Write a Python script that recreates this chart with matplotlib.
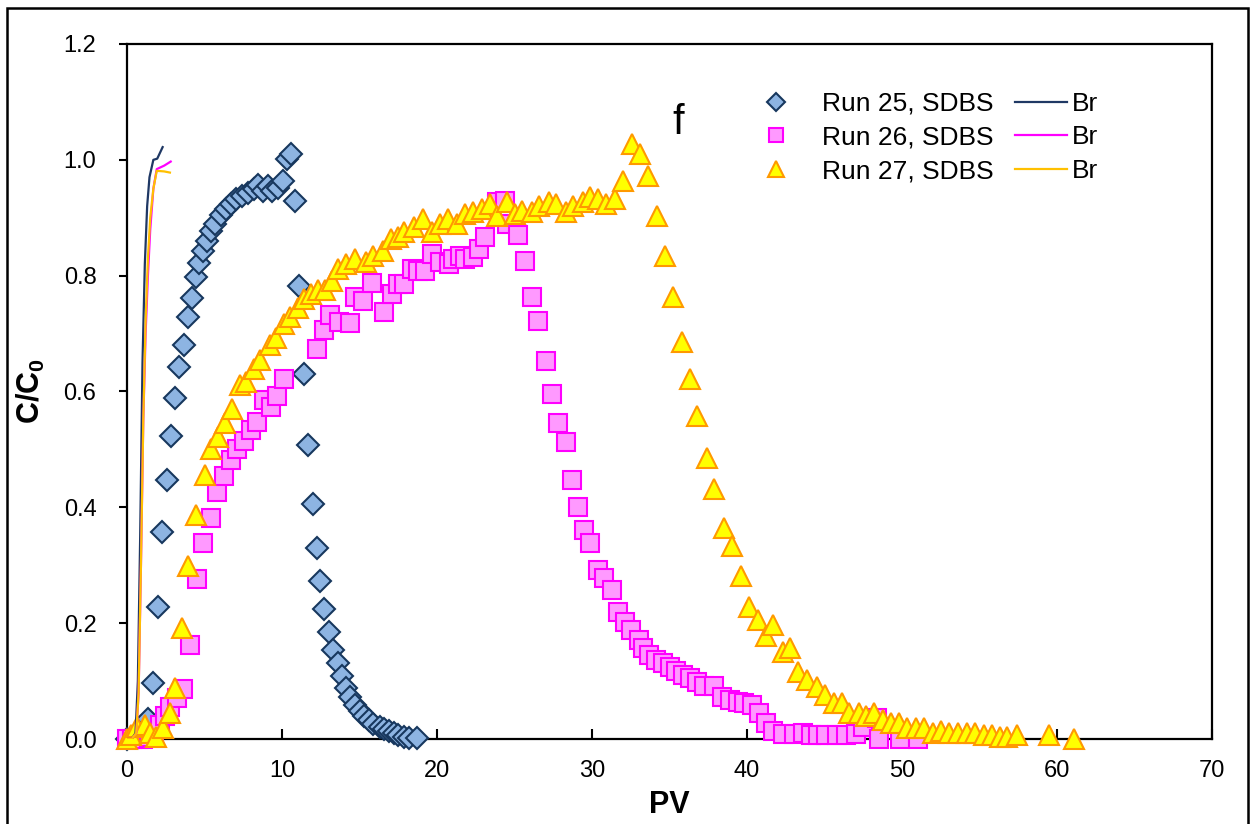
import matplotlib
matplotlib.use("Agg")
import matplotlib.pyplot as plt
from matplotlib.patches import Rectangle
from matplotlib.ticker import FormatStrFormatter, MultipleLocator

plt.rcParams["font.family"] = ["Liberation Sans", "DejaVu Sans"]
plt.rcParams["mathtext.fontset"] = "custom"
plt.rcParams["mathtext.rm"] = "Liberation Sans:bold"
plt.rcParams["mathtext.bf"] = "Liberation Sans:bold"

# Run 25, SDBS (diamonds)
pv_25 = [0, 0.45, 0.9, 1.35, 1.7, 2.0, 2.28, 2.56, 2.82, 3.1, 3.38, 3.65, 3.92,
         4.17, 4.45, 4.65, 4.9, 5.16, 5.4, 5.7, 6.06, 6.4, 6.7, 7.03, 7.4, 7.8,
         8.2, 8.45, 8.77, 9.1, 9.35, 9.74, 10.06, 10.3, 10.6, 10.84, 11.1, 11.4,
         11.7, 12.0, 12.26, 12.45, 12.7, 13.0, 13.3, 13.6, 13.87, 14.1, 14.4,
         14.7, 15.0, 15.3, 15.6, 15.9, 16.3, 16.6, 16.9, 17.2, 17.5, 17.9, 18.2,
         18.7]
c_25 = [0, 0.003, 0.01, 0.035, 0.097, 0.228, 0.357, 0.447, 0.524, 0.589, 0.643,
        0.68, 0.728, 0.762, 0.797, 0.822, 0.842, 0.859, 0.877, 0.89, 0.904,
        0.915, 0.923, 0.932, 0.937, 0.942, 0.949, 0.956, 0.946, 0.954, 0.946,
        0.951, 0.963, 1.001, 1.01, 0.929, 0.782, 0.63, 0.507, 0.405, 0.33,
        0.273, 0.225, 0.185, 0.154, 0.131, 0.109, 0.088, 0.073, 0.059, 0.048,
        0.040, 0.033, 0.026, 0.021, 0.017, 0.014, 0.010, 0.007, 0.004, 0.002,
        0.001]

# Run 26, SDBS (squares)
pv_26 = [0, 0.35, 0.7, 1.05, 1.4, 1.75, 2.1, 2.45, 2.8, 3.2, 3.6, 4.06, 4.54,
         4.93, 5.4, 5.83, 6.26, 6.69, 7.12, 7.55, 7.98, 8.37, 8.84, 9.27, 9.66,
         10.1, 12.25, 12.68, 13.1, 13.7, 14.4, 14.7, 15.2, 15.8, 16.6, 17.1,
         17.5, 17.9, 18.4, 18.8, 19.2, 19.7, 20.2, 20.8, 21.0, 21.5, 21.8, 22.3,
         22.7, 23.1, 23.9, 24.4, 24.5, 25.2, 25.7, 26.1, 26.5, 27.0, 27.4, 27.8,
         28.3, 28.7, 29.1, 29.5, 29.9, 30.4, 30.8, 31.3, 31.7, 32.1, 32.5, 33.0,
         33.3, 33.7, 34.1, 34.6, 35.0, 35.4, 35.9, 36.3, 36.8, 37.2, 37.9, 38.4,
         38.9, 39.4, 39.8, 40.3, 40.8, 41.2, 41.7, 42.3, 43.0, 43.6, 44.1, 44.6,
         45.1, 45.8, 46.4, 47.0, 47.5, 48.4, 48.5, 49.9, 51.0]
c_26 = [0, 0, 0, 0, 0.003, 0.01, 0.025, 0.04, 0.055, 0.07, 0.086, 0.162, 0.276,
        0.338, 0.382, 0.426, 0.454, 0.482, 0.5, 0.515, 0.533, 0.548, 0.585,
        0.574, 0.592, 0.621, 0.674, 0.706, 0.732, 0.72, 0.719, 0.763, 0.756,
        0.788, 0.738, 0.768, 0.785, 0.785, 0.811, 0.808, 0.808, 0.837, 0.823,
        0.82, 0.828, 0.834, 0.828, 0.832, 0.846, 0.866, 0.927, 0.929, 0.889,
        0.870, 0.825, 0.764, 0.721, 0.652, 0.595, 0.546, 0.512, 0.448, 0.4,
        0.361, 0.339, 0.292, 0.278, 0.258, 0.22, 0.202, 0.188, 0.171, 0.157,
        0.145, 0.137, 0.131, 0.125, 0.118, 0.111, 0.105, 0.099, 0.092, 0.092,
        0.073, 0.067, 0.064, 0.062, 0.059, 0.045, 0.028, 0.014, 0.009, 0.009,
        0.01, 0.007, 0.007, 0.007, 0.007, 0.007, 0.008, 0.02, 0.036, 0.0, 0.0,
        0.0]

# Run 27, SDBS (triangles)
pv_27 = [0, 0.25, 0.65, 1.15, 1.5, 1.9, 2.3, 2.75, 3.1, 3.55, 3.95, 4.45, 5.0,
         5.45, 5.9, 6.3, 6.8, 7.3, 7.7, 8.2, 8.6, 9.2, 9.6, 10.1, 10.5, 11.0,
         11.4, 11.9, 12.3, 12.8, 13.2, 13.6, 14.1, 14.7, 15.4, 15.9, 16.5, 17.0,
         17.5, 17.9, 18.5, 19.1, 19.7, 20.2, 20.7, 21.3, 21.8, 22.3, 22.9, 23.4,
         23.9, 24.5, 25.0, 25.5, 26.1, 26.6, 27.2, 27.7, 28.3, 28.8, 29.4, 29.9,
         30.4, 30.9, 31.5, 32.0, 32.6, 33.1, 33.6, 34.2, 34.7, 35.2, 35.8, 36.3,
         36.8, 37.4, 37.9, 38.5, 39.0, 39.6, 40.1, 40.7, 41.2, 41.7, 42.3, 42.8,
         43.3, 43.9, 44.5, 45.0, 45.6, 46.1, 46.6, 47.2, 47.7, 48.2, 48.8, 49.3,
         49.8, 50.3, 50.9, 51.4, 52.0, 52.5, 53.0, 53.6, 54.2, 54.7, 55.3, 55.8,
         56.3, 56.8, 57.4, 59.5, 61.1]
c_27 = [0, 0.007, 0.02, 0.024, 0.01, 0.004, 0.019, 0.045, 0.088, 0.192, 0.298,
        0.387, 0.455, 0.5, 0.522, 0.546, 0.569, 0.612, 0.617, 0.638, 0.655,
        0.681, 0.693, 0.716, 0.728, 0.744, 0.759, 0.768, 0.776, 0.776, 0.79,
        0.811, 0.82, 0.828, 0.823, 0.834, 0.842, 0.863, 0.866, 0.875, 0.884,
        0.897, 0.875, 0.889, 0.897, 0.889, 0.906, 0.91, 0.915, 0.923, 0.903,
        0.927, 0.906, 0.911, 0.91, 0.92, 0.927, 0.923, 0.91, 0.92, 0.927, 0.935,
        0.932, 0.923, 0.932, 0.963, 1.027, 1.01, 0.972, 0.903, 0.834, 0.763,
        0.685, 0.621, 0.557, 0.486, 0.431, 0.365, 0.334, 0.281, 0.228, 0.206,
        0.177, 0.197, 0.151, 0.157, 0.116, 0.102, 0.09, 0.076, 0.062, 0.062,
        0.045, 0.045, 0.039, 0.045, 0.033, 0.028, 0.028, 0.019, 0.019, 0.019,
        0.01, 0.013, 0.01, 0.01, 0.01, 0.01, 0.007, 0.007, 0.004, 0.004, 0.007,
        0.007, 0.0]

# Br tracer curves
br_pv_25 = [0, 0.3, 0.55, 0.7, 0.85, 1.0, 1.15, 1.3, 1.45, 1.7, 1.95, 2.3]
br_c_25 = [0, 0, 0.01, 0.1, 0.35, 0.65, 0.82, 0.92, 0.97, 1.0, 1.002, 1.022]
br_pv_26 = [0, 0.3, 0.6, 0.75, 0.9, 1.05, 1.2, 1.35, 1.5, 1.7, 1.92, 2.4, 2.82]
br_c_26 = [0, 0, 0.01, 0.08, 0.3, 0.55, 0.7, 0.8, 0.88, 0.95, 0.984, 0.99, 0.997]
br_pv_27 = [0, 0.3, 0.6, 0.75, 0.9, 1.05, 1.2, 1.35, 1.5, 1.7, 1.92, 2.4, 2.77]
br_c_27 = [0, 0, 0.01, 0.08, 0.3, 0.55, 0.72, 0.83, 0.9, 0.95, 0.981, 0.98, 0.978]

W, H = 1255, 824
fig = plt.figure(figsize=(W / 100, H / 100), dpi=100)
ax = fig.add_axes([127 / W, 1 - 739 / H, (1212 - 127) / W, (739 - 44) / H])

# outer chart border (bottom edge falls off the picture)
fig.patches.append(Rectangle((7 / W, -0.05), (1248 - 7) / W, 1.05 - 8 / H,
                             transform=fig.transFigure, fill=False,
                             edgecolor="black", linewidth=1.8))

mk = dict(linestyle="none", markeredgewidth=1.5, clip_on=False, zorder=3)
runs = []
runs += ax.plot(pv_25, c_25, marker="D", markersize=11, markerfacecolor="#8DB4E2",
                markeredgecolor="#17375E", label="Run 25, SDBS", **mk)
runs += ax.plot(pv_26, c_26, marker="s", markersize=13, markerfacecolor="#FF99FF",
                markeredgecolor="#FF00FF", label="Run 26, SDBS", **mk)
runs += ax.plot(pv_27, c_27, marker="^", markersize=14, markerfacecolor="#FFFF00",
                markeredgecolor="#FF9900", label="Run 27, SDBS", **mk)

brs = []
brs += ax.plot(br_pv_25, br_c_25, color="#1F3864", linewidth=1.6, label="Br", zorder=4)
brs += ax.plot(br_pv_26, br_c_26, color="#FF00FF", linewidth=1.6, label="Br", zorder=4)
brs += ax.plot(br_pv_27, br_c_27, color="#FFC000", linewidth=1.6, label="Br", zorder=4)

ax.set_xlim(0, 70)
ax.set_ylim(0, 1.2)
ax.xaxis.set_major_locator(MultipleLocator(10))
ax.yaxis.set_major_locator(MultipleLocator(0.2))
ax.yaxis.set_major_formatter(FormatStrFormatter("%.1f"))

for s in ax.spines.values():
    s.set_linewidth(1.6)
ax.tick_params(axis="x", direction="in", length=7, width=1.5, labelsize=17, pad=15)
ax.tick_params(axis="y", direction="out", length=6, width=1.5, labelsize=17, pad=16)

ax.set_xlabel("PV", fontsize=22, fontweight="bold", labelpad=6)
ax.set_ylabel("C/C$_{0}$", fontsize=22, fontweight="bold", labelpad=12)

ax.text(0.508, 0.887, "f", transform=ax.transAxes, fontsize=30,
        ha="center", va="center")

# two legend blocks: marker column and Br line column
leg_kw = dict(loc="upper left", frameon=False, fontsize=19, numpoints=1,
              labelspacing=0.36, borderpad=0, borderaxespad=0,
              bbox_transform=fig.transFigure)
leg1 = ax.legend(handles=runs, bbox_to_anchor=(763 / W, 1 - 92 / H),
                 handlelength=1.0, handletextpad=1.25, markerscale=0.8, **leg_kw)
ax.add_artist(leg1)
ax.legend(handles=brs, bbox_to_anchor=(1015 / W, 1 - 92 / H),
          handlelength=1.97, handletextpad=0.2, **leg_kw)

fig.savefig("out.png", dpi=100)
